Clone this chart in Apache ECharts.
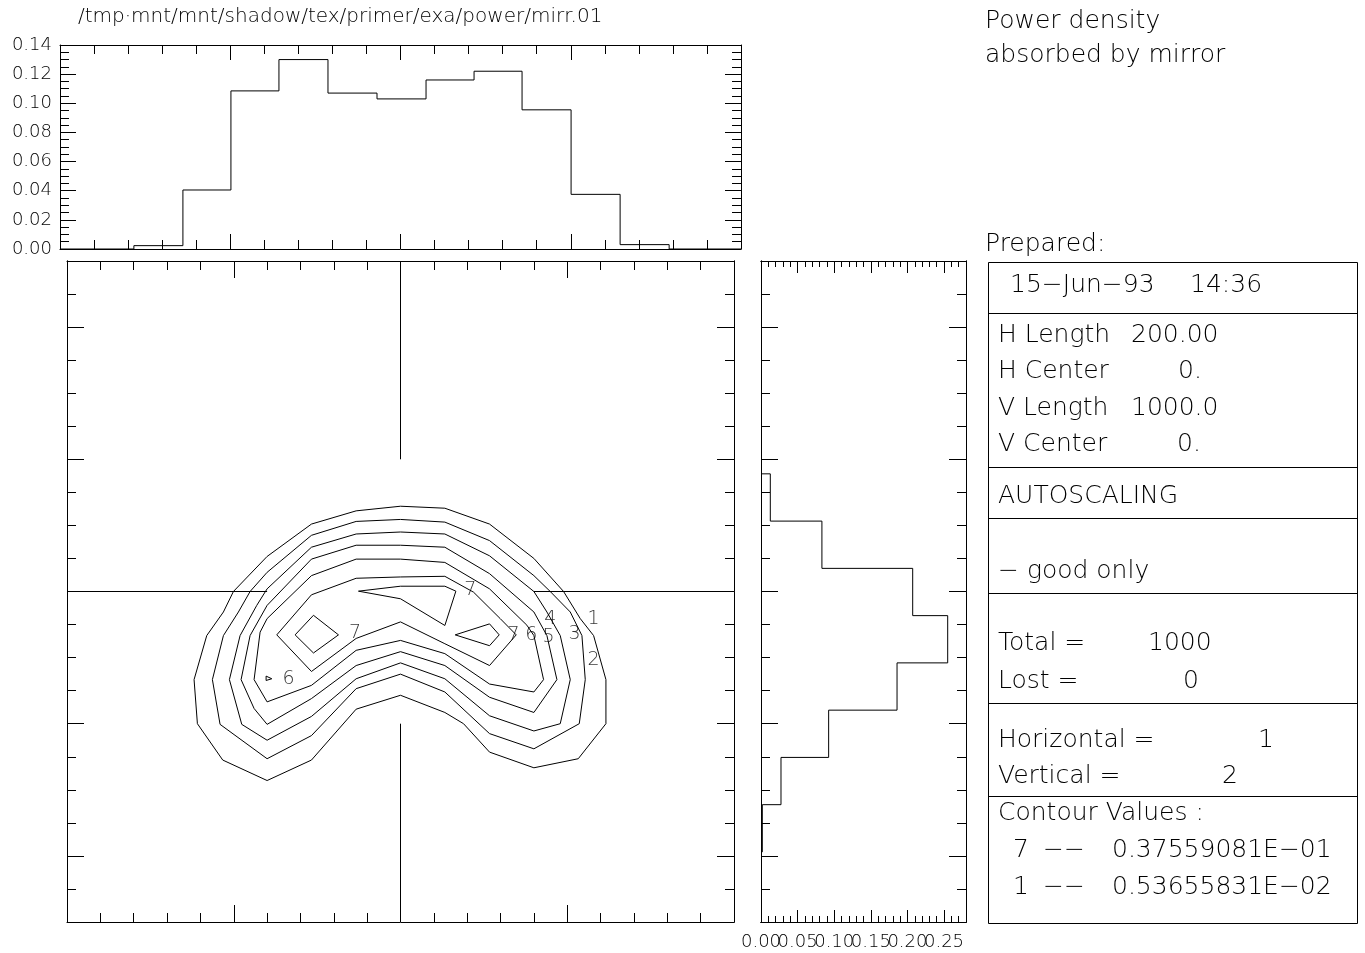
<!DOCTYPE html>
<html><head><meta charset="utf-8">
<script src="https://cdn.jsdelivr.net/npm/echarts@6/dist/echarts.min.js"></script>
<style>html,body{margin:0;padding:0;background:#fff}#c{width:1365px;height:953px}</style>
</head><body><div id="c"></div>
<script>
// ---------------- DATA ----------------
const titleText = '/tmp·mnt/mnt/shadow/tex/primer/exa/power/mirr.01';

// top histogram (horizontal distribution)
const topEdges  = [-78.3,-63.9,-49.8,-35.7,-21.3,-6.9,7.5,21.6,35.7,50.1,64.5,78.9];
const topValues = [0.0023,0.0405,0.1085,0.1300,0.1070,0.1030,0.1160,0.1220,0.0955,0.0375,0.0030];

// right histogram (vertical distribution), bins from top to bottom
const rightEdges  = [178,106.5,35,-36.5,-108,-179.5,-251,-322.5,-394];
const rightValues = [0.0127,0.0832,0.2072,0.2550,0.1858,0.0924,0.0273,0.0018];
const rightLabelsEven = [0,0.10,0.20];
const rightLabelsOdd  = [0.05,0.15,0.25];

// contour lines (x in H units, y in V units)
const contour1 = [[0,129],[13.3,126],[26.7,102],[40,50],[48.9,0],[53.9,-41],[57.9,-66.7],[61.6,-133.3],[61.6,-200],[53.3,-253],[40,-266.7],[26.7,-243],[18.9,-200],[13.3,-183],[0,-157],[-13.3,-178],[-26.7,-255],[-40,-286],[-53.3,-255],[-60.9,-200],[-61.9,-133.3],[-58.1,-66.7],[-53.1,-31],[-50.1,0],[-40,53],[-26.7,102],[-13.3,122],[0,129]];
const contour2 = [[-40,29],[-26.7,85],[-13.3,106],[0,109],[13.3,105],[26.7,77],[40,24],[44.9,0],[50.9,-31],[54.4,-66.7],[55.4,-133.3],[53.6,-200],[40,-238],[26.7,-215],[13.3,-152],[0,-125],[-13.3,-147],[-26.7,-218],[-40,-253],[-54.1,-201],[-56.4,-133.3],[-53.1,-66.7],[-48.6,-31],[-45.1,0],[-40,29]];
const contour3 = [[-40,4],[-26.7,67],[-13.3,87],[0,90],[13.3,87],[26.7,54],[40,0],[43.9,-31],[47.9,-66.7],[50.9,-133.3],[47.9,-200],[40,-211],[26.7,-188],[13.3,-132],[0,-108],[-13.3,-132],[-26.7,-189],[-40,-225],[-47.6,-201],[-51.3,-133.3],[-48.1,-66.7],[-43.1,-21],[-40,4]];
const contour4 = [[-40,-21],[-26.7,49],[-13.3,70],[0,70],[13.3,67],[26.7,27],[40,-31],[43.9,-66.7],[46.9,-133.3],[40,-183],[26.7,-160],[13.3,-112],[0,-91],[-13.3,-112],[-26.7,-162],[-40,-201],[-43.9,-177],[-47.8,-133.3],[-45.1,-66.7],[-40,-21]];
const contour5 = [[-40,-41],[-26.7,24],[-13.3,49],[0,49],[13.3,44],[26.7,4],[37.9,-51],[40,-66.7],[42.9,-133.3],[40,-152],[26.7,-140],[13.3,-94],[0,-74],[-13.3,-89],[-26.7,-142],[-40,-167],[-43.9,-133.3],[-42.1,-61.5],[-40,-41]];
const contour6 = [[-37.1,-65.6],[-26.7,-5],[-13.3,20],[0,22],[13.3,23],[21.9,-1],[29.9,-41],[34.7,-65.6],[26.7,-112],[13.3,-79],[0,-46],[-13.3,-71],[-26.7,-121],[-37.1,-65.6]];
const contour6b = [[-40.3,-128],[-38.6,-132],[-40.3,-134.6],[-40.3,-128]];
const contour7a = [[-12.6,0.5],[0,8],[13.3,8],[16.6,0.5],[13.3,-51.4],[0,-11],[-12.6,0.5]];
const contour7b = [[-31.6,-65.6],[-26.1,-36],[-18.6,-65.6],[-26.1,-93],[-31.6,-65.6]];
const contour7c = [[16.4,-65.6],[26.7,-49],[29.6,-65.6],[26.7,-82],[16.4,-65.6]];

const contourLabelText = ['7','7','6','7','6','5','4','3','1','2'];
const contourLabelX = [20.9,-13.6,-33.6,33.9,39.2,44.4,44.9,52.2,57.9,57.9];
const contourLabelY = [1.5,-62.5,-132,-65.6,-65.6,-69,-41,-64,-41,-104];

// centre cross-hair segments
const crossH1 = [[-100,0],[-40,0]];
const crossH2 = [[40,0],[100,0]];
const crossV1 = [[0,500],[0,200]];
const crossV2 = [[0,-200],[0,-500]];

const mainYMajor = [-400,-200,0,200,400];

// info panel text
const headerLines = ['Power density','absorbed by mirror','Prepared:'];
const dateText = ['15\u2212Jun\u221293','14:36'];
const lengthRows = [['H Length','200.00'],['H Center','0.'],['V Length','1000.0'],['V Center','0.']];
const scalingText = 'AUTOSCALING';
const rayText = '\u2212 good only';
const countRows = [['Total =','1000'],['Lost =','0']];
const colRows = [['Horizontal =','1'],['Vertical =','2']];
const contourTitle = 'Contour Values :';
const contourValues = [['7','\u2212\u2212','0.37559081E\u221201'],['1','\u2212\u2212','0.53655831E\u221202']];

// ---------------- BUILD ----------------
const FONT = 'DejaVu Sans';
const FW = 200;
const BLK = '#000';

function topHistPoints(){
  const p=[[-100,0],[topEdges[0],0]];
  for(let i=0;i<topValues.length;i++){p.push([topEdges[i],topValues[i]]);p.push([topEdges[i+1],topValues[i]]);}
  p.push([topEdges[topEdges.length-1],0]);p.push([100,0]);
  return p;
}
function rightHistPoints(){
  const p=[[0,rightEdges[0]]];
  for(let i=0;i<rightValues.length;i++){p.push([rightValues[i],rightEdges[i]]);p.push([rightValues[i],rightEdges[i+1]]);}
  p.push([0,rightEdges[rightEdges.length-1]]);
  return p;
}

function ax(o){
  const a = {
    type:'value', gridIndex:o.grid, position:o.pos, min:o.min, max:o.max,
    axisLine:{show:true,onZero:false,lineStyle:{color:BLK,width:1}},
    axisTick:{show:o.len>0,inside:true,length:o.len,lineStyle:{color:BLK,width:1}},
    minorTick:{show:!!o.minor,splitNumber:o.minor||5,length:o.minorLen||0,lineStyle:{color:BLK,width:1}},
    axisLabel:{show:false},
    splitLine:{show:false}, minorSplitLine:{show:false}
  };
  if(o.interval!==undefined) a.interval=o.interval;
  if(o.custom) a.axisTick.customValues=o.custom;
  if(o.label){
    a.axisLabel={show:true,color:BLK,fontFamily:FONT,fontWeight:FW,fontSize:18,margin:o.margin||8,formatter:o.label,hideOverlap:false,showMinLabel:true,showMaxLabel:true};
    if(o.labelValues) a.axisLabel.customValues=o.labelValues;
  }
  return a;
}

const fmt2 = v=>v.toFixed(2);
const xAxis = [
  ax({grid:0,pos:'bottom',min:-100,max:100,interval:50,len:15,minor:5,minorLen:9}), //0
  ax({grid:0,pos:'top',min:-100,max:100,interval:50,len:15,minor:5,minorLen:9}),    //1
  ax({grid:1,pos:'bottom',min:-100,max:100,interval:50,len:17,minor:5,minorLen:9}), //2
  ax({grid:1,pos:'top',min:-100,max:100,interval:50,len:17,minor:5,minorLen:9}),    //3
  ax({grid:2,pos:'bottom',min:0,max:0.28,interval:0.05,len:12,margin:11,label:fmt2,labelValues:rightLabelsEven}), //4
  ax({grid:2,pos:'top',min:0,max:0.28,interval:0.05,len:12}),                       //5
  ax({grid:2,pos:'bottom',min:0,max:0.28,interval:0.01,len:6}),                     //6
  ax({grid:2,pos:'top',min:0,max:0.28,interval:0.01,len:6}),                        //7
  ax({grid:2,pos:'bottom',min:0,max:0.28,interval:0.05,len:0,margin:11,label:fmt2,labelValues:rightLabelsOdd})   //8
];
const yAxis = [
  ax({grid:0,pos:'left',min:0,max:0.14,interval:0.02,len:16,minor:4,minorLen:9,label:fmt2}), //0
  ax({grid:0,pos:'right',min:0,max:0.14,interval:0.02,len:16,minor:4,minorLen:9}),  //1
  ax({grid:1,pos:'left',min:-500,max:500,interval:50,len:9}),                       //2
  ax({grid:1,pos:'right',min:-500,max:500,interval:50,len:9}),                      //3
  ax({grid:1,pos:'left',min:-500,max:500,interval:50,len:17,custom:mainYMajor}),    //4
  ax({grid:1,pos:'right',min:-500,max:500,interval:50,len:17,custom:mainYMajor}),   //5
  ax({grid:2,pos:'left',min:-500,max:500,interval:50,len:9}),                       //6
  ax({grid:2,pos:'right',min:-500,max:500,interval:50,len:9}),                      //7
  ax({grid:2,pos:'left',min:-500,max:500,interval:50,len:17,custom:mainYMajor}),    //8
  ax({grid:2,pos:'right',min:-500,max:500,interval:50,len:17,custom:mainYMajor})    //9
];

function lineSeries(data,xi,yi){
  return {type:'line',xAxisIndex:xi,yAxisIndex:yi,data:data,showSymbol:false,symbol:'none',
    lineStyle:{color:BLK,width:1},silent:true,animation:false,z:3};
}

const series = [
  lineSeries(topHistPoints(),0,0),
  lineSeries(rightHistPoints(),4,6)
];
[crossH1,crossH2,crossV1,crossV2,contour1,contour2,contour3,contour4,contour5,contour6,contour6b,contour7a,contour7b,contour7c]
  .forEach(c=>series.push(lineSeries(c,2,2)));
series.push({
  type:'scatter',xAxisIndex:2,yAxisIndex:2,symbolSize:0,silent:true,animation:false,
  data:contourLabelText.map((t,i)=>({name:t,value:[contourLabelX[i],contourLabelY[i]]})),
  label:{show:true,position:'inside',formatter:'{b}',color:BLK,fontFamily:FONT,fontWeight:FW,fontSize:19},
  z:5
});

// info panel graphics
const G=[];
function txt(x,y,s,size){G.push({type:'text',x:x,y:y,silent:true,style:{text:s,fill:BLK,fontFamily:FONT,fontWeight:FW,fontSize:size,verticalAlign:'middle',align:'left'}});}
function hline(x1,x2,y){G.push({type:'line',silent:true,shape:{x1:x1,y1:y+0.5,x2:x2,y2:y+0.5},style:{stroke:BLK,lineWidth:1}});}
const PS=25;
txt(78,17,titleText,20);
txt(985,21,headerLines[0],PS);
txt(985,55,headerLines[1],PS);
txt(985,244,headerLines[2],PS);
G.push({type:'rect',silent:true,shape:{x:988.5,y:262.5,width:369,height:661},style:{fill:'none',stroke:BLK,lineWidth:1}});
[313,467,518,593,703,796].forEach(y=>hline(988,1357,y));
txt(1010,285,dateText[0],PS); txt(1190,285,dateText[1],PS);
const lenY=[335,371,408,444], lenX=[1131,1178,1131,1177];
lengthRows.forEach((r,i)=>{txt(998,lenY[i],r[0],PS);txt(lenX[i],lenY[i],r[1],PS);});
txt(998,496,scalingText,PS);
txt(998,571,rayText,PS);
const cntY=[643,681], cntX=[1148,1183];
countRows.forEach((r,i)=>{txt(998,cntY[i],r[0],PS);txt(cntX[i],cntY[i],r[1],PS);});
const colY=[740,776], colX=[1258,1222];
colRows.forEach((r,i)=>{txt(998,colY[i],r[0],PS);txt(colX[i],colY[i],r[1],PS);});
txt(998,813,contourTitle,PS);
const cvY=[850,887];
contourValues.forEach((r,i)=>{txt(1013,cvY[i],r[0],PS);txt(1043,cvY[i],r[1],PS);txt(1112,cvY[i],r[2],PS);});

const option = {
  backgroundColor:'#fff',
  animation:false,
  grid:[
    {left:60,top:45,width:681,height:204,containLabel:false},
    {left:67,top:261,width:667,height:661,containLabel:false},
    {left:761,top:261,width:205,height:661,containLabel:false}
  ],
  xAxis:xAxis, yAxis:yAxis, series:series, graphic:G
};
const chart = echarts.init(document.getElementById('c'));
chart.setOption(option);
</script>
</body></html>
